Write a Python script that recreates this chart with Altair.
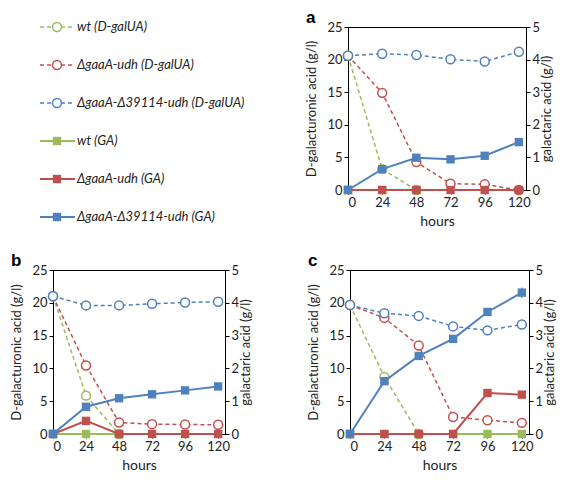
import altair as alt
import pandas as pd

HOURS = [0, 24, 48, 72, 96, 120]
SERIES = ["wt (D-galUA)", "ΔgaaA-udh (D-galUA)", "ΔgaaA-Δ39114-udh (D-galUA)",
          "wt (GA)", "ΔgaaA-udh (GA)", "ΔgaaA-Δ39114-udh (GA)"]
KINDS = ["galUA", "galUA", "galUA", "GA", "GA", "GA"]
COLORS = ["#9BBB59", "#C0504D", "#4F81BD", "#9BBB59", "#C0504D", "#4F81BD"]
LEGEND_ROW = [0, 1, 2, 3, 4, 5]

# ---- panel a ----  D-galacturonic acid (g/l, left axis); galactaric acid (g/l, right axis)
A_WT_GALUA = [20.6, 3.2, 0.0, None, None, None]
A_UDH_GALUA = [20.6, 14.9, 4.3, 0.97, 0.87, 0.0]
A_D39_GALUA = [20.6, 20.9, 20.7, 20.05, 19.7, 21.2]
A_WT_GA = [0.0, 0.0, 0.0, None, None, None]
A_UDH_GA = [0.0, 0.0, 0.0, 0.0, 0.0, 0.0]
A_D39_GA = [0.0, 0.64, 0.99, 0.94, 1.05, 1.47]

# ---- panel b ----
B_WT_GALUA = [21.0, 5.85, 0.0, None, None, None]
B_UDH_GALUA = [21.0, 10.45, 1.75, 1.5, 1.45, 1.4]
B_D39_GALUA = [21.0, 19.6, 19.6, 19.85, 20.05, 20.15]
B_WT_GA = [0.0, 0.0, 0.0, None, None, None]
B_UDH_GA = [0.0, 0.4, 0.0, 0.0, 0.0, 0.0]
B_D39_GA = [0.0, 0.83, 1.09, 1.21, 1.33, 1.45]

# ---- panel c ----
C_WT_GALUA = [19.65, 8.7, 0.0, None, None, None]
C_UDH_GALUA = [19.65, 17.7, 13.5, 2.6, 2.1, 1.7]
C_D39_GALUA = [19.65, 18.4, 18.0, 16.4, 15.8, 16.7]
C_WT_GA = [0.0, 0.0, 0.0, 0.0, 0.0, 0.0]
C_UDH_GA = [0.0, 0.0, 0.0, 0.0, 1.25, 1.2]
C_D39_GA = [0.0, 1.61, 2.38, 2.9, 3.72, 4.31]

# error bars (standard deviation), only visible ones
NO_ERR = [0.0, 0.0, 0.0, 0.0, 0.0, 0.0]
C_D39_GA_ERR = [0.0, 0.0, 0.0, 0.06, 0.1, 0.16]

FONT = "Lato"
TXT = "#222222"


def panel_frame(values_list, err_list):
    rows = []
    for name, kind, vals, errs in zip(SERIES, KINDS, values_list, err_list):
        for h, v, e in zip(HOURS, vals, errs):
            if v is None:
                continue
            rows.append(dict(hours=h, value=v, series=name, kind=kind,
                             lo=v - e, hi=v + e, err=e))
    return pd.DataFrame(rows)


X = alt.X("hours:Q", scale=alt.Scale(domain=[0, 125], nice=False),
          axis=alt.Axis(values=HOURS, title="hours", grid=False, titleFontSize=14,
                        labelFontSize=13, titlePadding=5))


def y_enc(field, left, h):
    if left:
        return alt.Y(field, scale=alt.Scale(domain=[0, 25], nice=False),
                     axis=alt.Axis(orient="left", values=[0, 5, 10, 15, 20, 25],
                                   title="D-galacturonic acid (g/l)", grid=False,
                                   titlePadding=8))
    return alt.Y(field, scale=alt.Scale(domain=[0, 5], nice=False),
                 axis=alt.Axis(orient="right", values=[0, 1, 2, 3, 4, 5],
                               title="galactaric acid (g/l)", titleAngle=270,
                               titleBaseline="bottom", titleAlign="center",
                               titleX=27, titleY=h / 2, grid=False))


def make_panel(letter, df, w, h):
    base = alt.Chart(df)
    gal_layers, ga_layers = [], []
    for name, kind, color in zip(SERIES, KINDS, COLORS):
        sub = base.transform_filter(alt.datum.series == name)
        if kind == "galUA":
            gal_layers.append(sub.mark_line(color=color, strokeDash=[4, 3], strokeWidth=1.5)
                              .encode(x=X, y=y_enc("value:Q", True, h)))
            gal_layers.append(sub.mark_point(shape="circle", filled=True, fill="white",
                                             stroke=color, strokeWidth=1.5, size=80, opacity=1)
                              .encode(x=X, y=y_enc("value:Q", True, h)))
        else:
            ga_layers.append(sub.mark_line(color=color, strokeWidth=2)
                             .encode(x=X, y=y_enc("value:Q", False, h)))
            ga_layers.append(sub.transform_filter(alt.datum.err > 0)
                             .mark_rule(color=color, strokeWidth=1.2)
                             .encode(x=X, y=y_enc("lo:Q", False, h), y2="hi:Q"))
            ga_layers.append(sub.mark_point(shape="square", filled=True, color=color,
                                            size=70, opacity=1)
                             .encode(x=X, y=y_enc("value:Q", False, h)))
    gal = alt.layer(*gal_layers)
    ga = alt.layer(*ga_layers)
    return alt.layer(gal, ga).resolve_scale(y="independent").properties(
        width=w, height=h,
        title=alt.TitleParams(letter, anchor="start", frame="bounds", fontSize=17,
                              fontWeight="bold", font="Liberation Sans", color="black",
                              offset=-6))


df_a = panel_frame([A_WT_GALUA, A_UDH_GALUA, A_D39_GALUA, A_WT_GA, A_UDH_GA, A_D39_GA],
                   [NO_ERR] * 6)
df_b = panel_frame([B_WT_GALUA, B_UDH_GALUA, B_D39_GALUA, B_WT_GA, B_UDH_GA, B_D39_GA],
                   [NO_ERR] * 6)
df_c = panel_frame([C_WT_GALUA, C_UDH_GALUA, C_D39_GALUA, C_WT_GA, C_UDH_GA, C_D39_GA],
                   [NO_ERR, NO_ERR, NO_ERR, NO_ERR, NO_ERR, C_D39_GA_ERR])

pa = make_panel("a", df_a, 178, 163)
pb = make_panel("b", df_b, 172, 164)
pc = make_panel("c", df_c, 179, 164)

# ---- legend panel ----
leg_df = pd.DataFrame(dict(label=SERIES, kind=KINDS, row=LEGEND_ROW))
ly = alt.Y("row:Q", axis=None, scale=alt.Scale(domain=[0, 5], reverse=True, nice=False))
lcol = alt.Color("label:N", scale=alt.Scale(domain=SERIES, range=COLORS), legend=None)
lbase = alt.Chart(leg_df)
leg_rule = lbase.mark_rule().encode(
    x=alt.value(-13), x2=alt.value(22), y=ly, color=lcol,
    strokeDash=alt.StrokeDash("kind:N", scale=alt.Scale(domain=["galUA", "GA"],
                                                        range=[[4, 3], [1, 0]]), legend=None),
    size=alt.Size("kind:N", scale=alt.Scale(domain=["galUA", "GA"], range=[1.5, 2]), legend=None))
leg_circ = lbase.transform_filter(alt.datum.kind == "galUA").mark_point(
    shape="circle", filled=True, fill="white", strokeWidth=1.5, size=80, opacity=1).encode(
    x=alt.value(4), y=ly,
    stroke=alt.Stroke("label:N", scale=alt.Scale(domain=SERIES, range=COLORS), legend=None))
leg_sq = lbase.transform_filter(alt.datum.kind == "GA").mark_point(
    shape="square", filled=True, size=70, opacity=1).encode(x=alt.value(4), y=ly, color=lcol)
leg_txt = lbase.mark_text(align="left", baseline="middle", fontStyle="italic", fontSize=13,
                          font=FONT, color=TXT).encode(x=alt.value(24), y=ly, text="label:N")
legend = alt.layer(leg_rule, leg_circ, leg_sq, leg_txt).properties(
    width=231, height=190, view=alt.ViewBackground(stroke="transparent"))

chart = alt.vconcat(
    alt.hconcat(legend, pa, spacing=20),
    alt.hconcat(pb, pc, spacing=54),
    spacing=22,
).properties(padding={"left": 2, "top": 0, "right": 0, "bottom": 0}).configure_view(
    stroke="black", strokeWidth=1).configure_axis(
    labelFont=FONT, titleFont=FONT, labelFontSize=13, titleFontSize=13,
    labelColor=TXT, titleColor=TXT, titleFontWeight="normal",
    domainColor="black", tickColor="black", tickSize=4, labelPadding=2)

chart.save("out.html", embed_options={"renderer": "svg", "actions": False})
